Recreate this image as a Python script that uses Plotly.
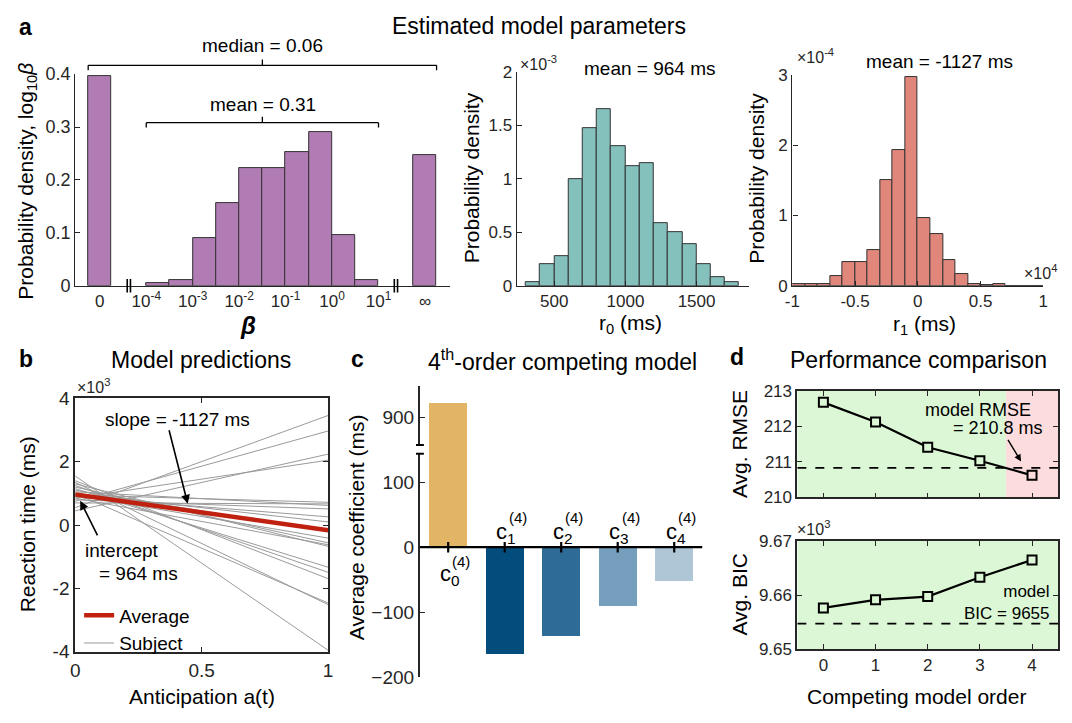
import plotly.graph_objects as go

W, H = 1072, 723
FONT = "Liberation Sans, Arial, Helvetica, sans-serif"
AX = "#262626"

# ---------------- data ----------------
# panel a (left): distribution of beta, plotted in log10 space
beta_tick_pos = [-5, -4, -3, -2, -1, 0, 1, 2]
beta_tick_text = ["0", "10<sup>-4</sup>", "10<sup>-3</sup>", "10<sup>-2</sup>", "10<sup>-1</sup>",
                  "10<sup>0</sup>", "10<sup>1</sup>", "∞"]
beta_bin_centers = [-5.0, -3.75, -3.25, -2.75, -2.25, -1.75, -1.25, -0.75, -0.25, 0.25, 0.75, 2.0]
beta_density = [0.397, 0.005, 0.011, 0.090, 0.157, 0.223, 0.223, 0.252, 0.290, 0.095, 0.011, 0.246]
beta_bin_width = 0.5
beta_median_text = "median = 0.06"
beta_mean_text = "mean = 0.31"

# panel a (middle): r0 histogram (density in units of 1e-3)
r0_bin_centers = [350, 450, 550, 650, 750, 850, 950, 1050, 1150, 1250, 1350, 1450, 1550, 1650, 1750]
r0_density_e3 = [0.03, 0.20, 0.28, 1.00, 1.48, 1.65, 1.31, 1.12, 1.15, 0.59, 0.50, 0.39, 0.20, 0.085, 0.03]
r0_bin_width = 100
r0_mean = 964

# panel a (right): r1 histogram (density in units of 1e-4)
r1_bin_centers = [-9500, -8500, -7500, -6500, -5500, -4500, -3500, -2500, -1500, -500,
                  500, 1500, 2500, 3500, 4500, 5500, 6500, 7500, 8500, 9500]
r1_density_e4 = [0.03, 0.03, 0.025, 0.134, 0.34, 0.34, 0.51, 1.50, 1.93, 2.97,
                 0.96, 0.73, 0.37, 0.17, 0.03, 0.005, 0.03, 0.0, 0.0, 0.0]
r1_bin_width = 1000
r1_mean = -1127

# panel b: model predictions (reaction time in ms at a(t)=0 and a(t)=1)
subject_rt_at_0 = [550, 750, 450, 850, 950, 700, 1050, 800, 900, 1000, 1100,
                   950, 1200, 850, 1300, 1150, 1250, 1400, 1000, 1350, 1550]
subject_rt_at_1 = [3460, 2970, 2240, 2050, 720, 670, 620, 510, 260, 100, -200,
                   -410, -560, -620, -670, -1330, -1490, -1690, -2460, -2510, -3950]
avg_intercept = 964
avg_slope = -1127

# panel c: 4th-order competing model coefficients (ms)
coef_index = [0, 1, 2, 3, 4]
coef_values = [924, -165, -137, -91, -53]
coef_colors = ["#e2b465", "#024d7c", "#2e6b97", "#759fbd", "#aec6d6"]

# panel d: performance comparison
model_order = [0, 1, 2, 3, 4]
avg_rmse = [212.67, 212.12, 211.41, 211.03, 210.62]
model_rmse = 210.83
avg_bic = [9657.6, 9659.1, 9659.7, 9663.3, 9666.5]
model_bic = 9654.7

GREEN = "#dcf7d5"
PINK = "#fcdcdc"


# ---------------- helpers ----------------
def px(x):
    return x / W


def py(y):
    return 1 - y / H


def dx(l, r):
    return [l / W, r / W]


def dy(top, bottom):
    return [1 - bottom / H, 1 - top / H]


def axis(domain, rng, size=17, lw=1.3, **kw):
    d = dict(domain=domain, range=rng, showgrid=False, zeroline=False, showline=True,
             linecolor=AX, linewidth=lw, ticks="inside", ticklen=5, tickcolor=AX, tickwidth=1,
             tickfont=dict(size=size, color=AX, family=FONT), layer="above traces", fixedrange=True)
    d.update(kw)
    return d


fig = go.Figure()

# ---- panel a left ----
fig.add_trace(go.Bar(x=beta_bin_centers, y=beta_density, width=beta_bin_width,
                     marker=dict(color="#b07cb3", line=dict(color="#333333", width=1)),
                     xaxis="x", yaxis="y", showlegend=False))
# ---- panel a middle ----
fig.add_trace(go.Bar(x=r0_bin_centers, y=r0_density_e3, width=r0_bin_width,
                     marker=dict(color="#84c0bc", line=dict(color="#333333", width=1)),
                     xaxis="x2", yaxis="y2", showlegend=False))
# ---- panel a right ----
fig.add_trace(go.Bar(x=r1_bin_centers, y=r1_density_e4, width=r1_bin_width,
                     marker=dict(color="#e0867a", line=dict(color="#333333", width=1)),
                     xaxis="x3", yaxis="y3", showlegend=False))

# ---- panel b ----
sx, sy = [], []
for a0, a1 in zip(subject_rt_at_0, subject_rt_at_1):
    sx += [0, 1, None]
    sy += [a0, a1, None]
fig.add_trace(go.Scatter(x=sx, y=sy, mode="lines", line=dict(color="#9a9a9a", width=1),
                         name="Subject", xaxis="x4", yaxis="y4"))
fig.add_trace(go.Scatter(x=[0, 1], y=[avg_intercept, avg_intercept + avg_slope], mode="lines",
                         line=dict(color="#c0200f", width=4.5), name="Average",
                         xaxis="x4", yaxis="y4"))

# ---- panel c ----
fig.add_trace(go.Bar(x=coef_index, y=coef_values, width=0.68, marker=dict(color=coef_colors, line=dict(width=0)),
                     xaxis="x5", yaxis="y5", showlegend=False))
fig.add_trace(go.Bar(x=coef_index, y=coef_values, width=0.68, marker=dict(color=coef_colors, line=dict(width=0)),
                     xaxis="x6", yaxis="y6", showlegend=False))

# ---- panel d ----
fig.add_trace(go.Scatter(x=model_order, y=avg_rmse, mode="lines+markers",
                         line=dict(color="black", width=2.2),
                         marker=dict(symbol="square", size=9,
                                     color=[GREEN, GREEN, GREEN, GREEN, PINK],
                                     line=dict(color="black", width=2)),
                         xaxis="x7", yaxis="y7", showlegend=False))
fig.add_trace(go.Scatter(x=model_order, y=avg_bic, mode="lines+markers",
                         line=dict(color="black", width=2.2),
                         marker=dict(symbol="square", size=9, color=GREEN,
                                     line=dict(color="black", width=2)),
                         xaxis="x8", yaxis="y8", showlegend=False))

layout = dict(
    width=W, height=H, margin=dict(l=0, r=0, t=0, b=0),
    paper_bgcolor="white", plot_bgcolor="rgba(0,0,0,0)",
    font=dict(family=FONT, color="black"),
    barmode="overlay", bargap=0,
    showlegend=True,
    legend=dict(x=px(72), y=py(604), xanchor="left", yanchor="top", bgcolor="rgba(0,0,0,0)",
                font=dict(size=19, family=FONT, color="black"), traceorder="reversed",
                tracegroupgap=0, itemwidth=30),
)

# panel a axes
layout["xaxis"] = axis(dx(68, 447), [-5.53, 2.53], tickvals=beta_tick_pos, ticktext=beta_tick_text,
                       anchor="y", ticks="")
layout["yaxis"] = axis(dy(66, 284), [0, 0.4], tickvals=[0, 0.1, 0.2, 0.3, 0.4],
                       ticktext=["0", "0.1", "0.2", "0.3", "0.4"], anchor="x", size=18)
layout["xaxis2"] = axis(dx(515, 750), [236, 1868], tickvals=[500, 1000, 1500], anchor="y2")
layout["yaxis2"] = axis(dy(64, 284), [0, 2], tickvals=[0, 0.5, 1, 1.5, 2],
                        ticktext=["0", "0.5", "1", "1.5", "2"], anchor="x2")
layout["xaxis3"] = axis(dx(794, 1048), [-10000, 10000], tickvals=[-10000, -5000, 0, 5000, 10000],
                        ticktext=["-1", "-0.5", "0", "0.5", "1"], anchor="y3")
layout["yaxis3"] = axis(dy(67, 284), [0, 3], tickvals=[0, 1, 2, 3], anchor="x3")

# panel b axes
layout["xaxis4"] = axis(dx(68, 324), [0, 1], tickvals=[0, 0.5, 1], ticktext=["0", "0.5", "1"],
                        anchor="y4", mirror="ticks", size=19, lw=1.8)
layout["yaxis4"] = axis(dy(400, 661), [-4000, 4000], tickvals=[-4000, -2000, 0, 2000, 4000],
                        ticktext=["-4", "-2", "0", "2", "4"], anchor="x4", mirror="ticks", size=19, lw=1.8)

# panel c axes (broken y axis)
layout["xaxis5"] = axis(dx(417, 703), [-0.5, 4.5], anchor="y5", showline=False, ticks="",
                        showticklabels=False)
layout["yaxis5"] = axis(dy(451.5, 687), [-200, 152.2], tickvals=[-200, -100, 0, 100], anchor="x5",
                        size=19, lw=2)
layout["xaxis6"] = axis(dx(417, 703), [-0.5, 4.5], anchor="y6", showline=False, ticks="",
                        showticklabels=False, matches="x5")
layout["yaxis6"] = axis(dy(387, 452.5), [851.3, 949.5], tickvals=[900], anchor="x6", size=19, lw=2)

# panel d axes
layout["xaxis7"] = axis(dx(799, 1063), [-0.5, 4.5], tickvals=model_order, showticklabels=False,
                        anchor="y7", mirror="ticks", lw=1.8)
layout["yaxis7"] = axis(dy(392, 502), [210, 213], tickvals=[210, 211, 212, 213], anchor="x7",
                        mirror="ticks", lw=1.8)
layout["xaxis8"] = axis(dx(799, 1063), [-0.5, 4.5], tickvals=model_order, anchor="y8",
                        mirror="ticks", lw=1.8)
layout["yaxis8"] = axis(dy(547, 658), [9650, 9670], tickvals=[9650, 9660, 9670],
                        ticktext=["9.65", "9.66", "9.67"], anchor="x8", mirror="ticks", lw=1.8)

fig.update_layout(**layout)

# ---------------- shapes ----------------
shapes = []
# panel a: axis breaks "||"
for xb in [-4.375, 1.375]:
    for off in [-0.035, 0.035]:
        shapes.append(dict(type="line", xref="x", yref="paper", x0=xb + off, x1=xb + off,
                           y0=py(291), y1=py(277), line=dict(color="black", width=1.6)))
# panel a: median bracket
med_l, med_r, br_c = -5.25, 2.25, -1.5
shapes += [
    dict(type="line", xref="x", yref="paper", x0=med_l, x1=med_r, y0=py(57), y1=py(57),
         line=dict(color="black", width=1.3)),
    dict(type="line", xref="x", yref="paper", x0=med_l, x1=med_l, y0=py(57), y1=py(62),
         line=dict(color="black", width=1.3)),
    dict(type="line", xref="x", yref="paper", x0=med_r, x1=med_r, y0=py(57), y1=py(62),
         line=dict(color="black", width=1.3)),
    dict(type="line", xref="x", yref="paper", x0=br_c, x1=br_c, y0=py(57), y1=py(51),
         line=dict(color="black", width=1.3)),
]
mean_l, mean_r = -4.0, 1.0
shapes += [
    dict(type="line", xref="x", yref="paper", x0=mean_l, x1=mean_r, y0=py(116), y1=py(116),
         line=dict(color="black", width=1.3)),
    dict(type="line", xref="x", yref="paper", x0=mean_l, x1=mean_l, y0=py(116), y1=py(121),
         line=dict(color="black", width=1.3)),
    dict(type="line", xref="x", yref="paper", x0=mean_r, x1=mean_r, y0=py(116), y1=py(121),
         line=dict(color="black", width=1.3)),
    dict(type="line", xref="x", yref="paper", x0=br_c, x1=br_c, y0=py(116), y1=py(110),
         line=dict(color="black", width=1.3)),
]
# panel c: zero line and ticks, axis break
shapes.append(dict(type="line", xref="x5", yref="y5", x0=-0.5, x1=4.5, y0=0, y1=0,
                   line=dict(color="black", width=2.2), layer="above"))
for k in coef_index:
    shapes.append(dict(type="line", xref="x5", yref="y5", x0=k, x1=k, y0=-8, y1=8,
                       line=dict(color="black", width=2.2), layer="above"))
shapes.append(dict(type="rect", xref="paper", yref="paper", x0=px(411), x1=px(423), y0=py(456.5),
                   y1=py(448.5), fillcolor="white", line=dict(width=0), layer="above"))
for yb in [448, 457]:
    shapes.append(dict(type="line", xref="paper", yref="paper", x0=px(413), x1=px(421), y0=py(yb),
                       y1=py(yb), line=dict(color="black", width=2), layer="above"))
# panel d backgrounds and model reference lines
shapes += [
    dict(type="rect", xref="x7", yref="y7 domain", x0=-0.5, x1=3.5, y0=0, y1=1, fillcolor=GREEN,
         line=dict(width=0), layer="below"),
    dict(type="rect", xref="x7", yref="y7 domain", x0=3.5, x1=4.5, y0=0, y1=1, fillcolor=PINK,
         line=dict(width=0), layer="below"),
    dict(type="rect", xref="x8", yref="y8 domain", x0=-0.5, x1=4.5, y0=0, y1=1, fillcolor=GREEN,
         line=dict(width=0), layer="below"),
    dict(type="line", xref="x7", yref="y7", x0=-0.5, x1=4.5, y0=model_rmse, y1=model_rmse,
         line=dict(color="black", width=1.8, dash="dash")),
    dict(type="line", xref="x8", yref="y8", x0=-0.5, x1=4.5, y0=model_bic, y1=model_bic,
         line=dict(color="black", width=1.8, dash="dash")),
]
fig.update_layout(shapes=shapes)

# ---------------- annotations ----------------
ann = []


def text(x, y, s, size=20, xanchor="center", yanchor="middle", angle=0, color="black", align="center"):
    ann.append(dict(x=px(x), y=py(y), xref="paper", yref="paper", text=s, showarrow=False,
                    xanchor=xanchor, yanchor=yanchor, textangle=angle, align=align,
                    font=dict(size=size, family=FONT, color=color)))


# panel letters and titles
text(18, 17, "<b>a</b>", size=23)
text(538, 16, "Estimated model parameters", size=23)
text(18, 359, "<b>b</b>", size=23)
text(195, 360, "Model predictions", size=23)
text(354, 359, "<b>c</b>", size=23)
text(561, 360, "4<sup>th</sup>-order competing model", size=23)
text(738, 357, "<b>d</b>", size=23)
text(922, 360, "Performance comparison", size=23)

# panel a texts
text(258, 37, beta_median_text, size=19)
text(258, 97, beta_mean_text, size=19)
text(19, 176, "Probability density, log<sub>10</sub><i>β</i>", size=21, angle=-90)
text(243, 325, "<b><i>β</i></b>", size=24)
text(470, 173, "Probability density", size=21, angle=-90)
text(630, 323, "r<sub>0</sub> (ms)", size=21)
text(516, 55, "×10<sup>-3</sup>", size=16, xanchor="left", color=AX)
text(650, 60, f"mean = {r0_mean} ms", size=19)
text(758, 173, "Probability density", size=21, angle=-90)
text(928, 324, "r<sub>1</sub> (ms)", size=21)
text(797, 47, "×10<sup>-4</sup>", size=16, xanchor="left", color=AX)
text(943, 53, f"mean = {r1_mean} ms", size=19)
text(1026, 270, "×10<sup>4</sup>", size=16, xanchor="left", color=AX)

# panel b texts
text(20, 530, "Reaction time (ms)", size=21, angle=-90)
text(196, 707, "Anticipation a(t)", size=21)
text(68, 387, "×10<sup>3</sup>", size=16, xanchor="left", color=AX)
text(172, 422, f"slope = {avg_slope} ms", size=19)
text(115, 557, "intercept", size=19)
text(132, 580, f"= {avg_intercept} ms", size=19)
ann.append(dict(x=0.445, y=675, xref="x4", yref="y4", ax=-19, ay=-75, text="", showarrow=True,
                arrowhead=2, arrowsize=1.1, arrowwidth=1.6, arrowcolor="black"))
ann.append(dict(x=0.02, y=767, xref="x4", yref="y4", ax=18, ay=36, text="", showarrow=True,
                arrowhead=2, arrowsize=1.1, arrowwidth=1.6, arrowcolor="black"))

# panel c texts
text(353, 533, "Average coefficient (ms)", size=21, angle=-90)
for k, v in zip(coef_index, coef_values):
    if v >= 0:
        cy, sy_ = -43, -22
    else:
        cy, sy_ = 22, 45
    ann.append(dict(x=k + 0.03, y=cy, xref="x5", yref="y5", text=f"c<sub>{k}</sub>", showarrow=False,
                    font=dict(size=22, family=FONT, color="black")))
    ann.append(dict(x=k + 0.23, y=sy_, xref="x5", yref="y5", text="(4)", showarrow=False,
                    font=dict(size=15, family=FONT, color="black")))

# panel d texts
text(740, 447, "Avg. RMSE", size=21, angle=-90)
text(740, 602, "Avg. BIC", size=21, angle=-90)
text(920, 707, "Competing model order", size=21)
text(797, 533, "×10<sup>3</sup>", size=16, xanchor="left", color=AX)
text(982, 412, "model RMSE", size=18)
text(1002, 430, f"= {model_rmse:.1f} ms", size=18)
text(1057, 610, f"model<br>BIC = {round(model_bic)}", size=17, xanchor="right", align="right")
ann.append(dict(x=3.79, y=211.01, xref="x7", yref="y7", ax=-14, ay=-23, text="", showarrow=True,
                arrowhead=2, arrowsize=1.0, arrowwidth=1.4, arrowcolor="black"))

fig.update_layout(annotations=ann)

fig.write_html("out.html")
